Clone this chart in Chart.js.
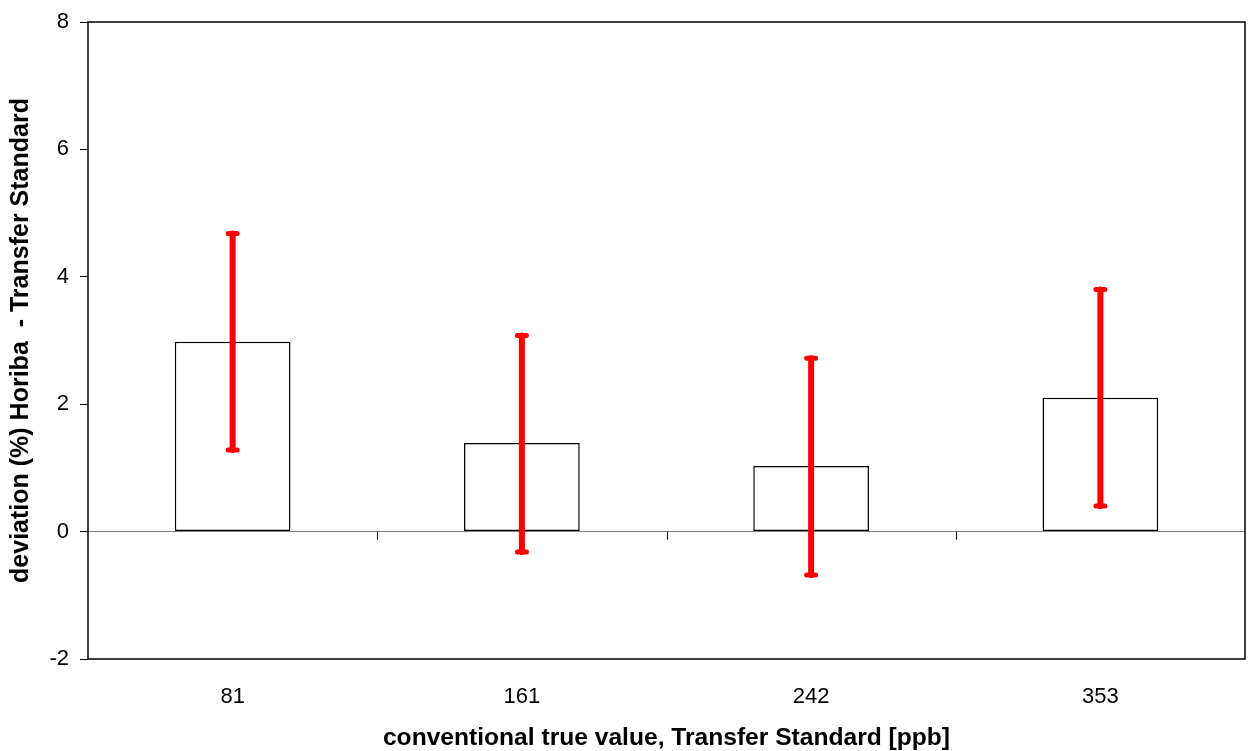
<!DOCTYPE html>
<html>
<head>
<meta charset="utf-8">
<script src="https://cdn.jsdelivr.net/npm/chart.js@4.4.1/dist/chart.umd.min.js"></script>
<style>
  html, body { margin: 0; padding: 0; background: #fff; }
  #wrap { width: 1249px; height: 751px; }
</style>
</head>
<body>
<div id="wrap"><canvas id="chart1"></canvas></div>
<script>
// data
var categories = ['81', '161', '242', '353'];
var deviation = [2.98, 1.39, 1.03, 2.10];
var errLow = [1.28, -0.32, -0.68, 0.40];
var errHigh = [4.68, 3.08, 2.72, 3.80];
var yTicks = [-2, 0, 2, 4, 6, 8];

var font = 'Arial, "Liberation Sans", sans-serif';

// plot box + category ticks on the zero line + red error bars
var extras = {
    id: 'extras',
    afterDatasetsDraw: function (chart) {
        var ctx = chart.ctx;
        var x = chart.scales.x;
        var y = chart.scales.y;
        var a = chart.chartArea;
        var y0 = y.getPixelForValue(0);

        ctx.save();
        // category separators hanging from the zero line
        ctx.strokeStyle = '#000';
        ctx.lineWidth = 1;
        for (var i = 0; i < categories.length - 1; i++) {
            var mx = Math.round((x.getPixelForValue(i) + x.getPixelForValue(i + 1)) / 2) + 0.5;
            ctx.beginPath();
            ctx.moveTo(mx, y0);
            ctx.lineTo(mx, y0 + 8);
            ctx.stroke();
        }

        // error bars
        ctx.strokeStyle = '#ff0000';
        ctx.lineCap = 'round';
        for (var j = 0; j < categories.length; j++) {
            var cx = x.getPixelForValue(j);
            var yl = y.getPixelForValue(errLow[j]);
            var yh = y.getPixelForValue(errHigh[j]);
            ctx.lineWidth = 6;
            ctx.beginPath();
            ctx.moveTo(cx, yl);
            ctx.lineTo(cx, yh);
            ctx.stroke();
            ctx.lineWidth = 5;
            ctx.beginPath();
            ctx.moveTo(cx - 4.5, yl);
            ctx.lineTo(cx + 4.5, yl);
            ctx.moveTo(cx - 4.5, yh);
            ctx.lineTo(cx + 4.5, yh);
            ctx.stroke();
        }

        // frame
        ctx.lineCap = 'butt';
        ctx.strokeStyle = '#000';
        ctx.lineWidth = 1.5;
        ctx.strokeRect(a.left, a.top, a.right - a.left, a.bottom - a.top);
        ctx.restore();
    }
};

var ctx1 = document.getElementById('chart1').getContext('2d');
var chart1 = new Chart(ctx1, {
    type: 'bar',
    data: {
        labels: categories,
        datasets: [{
            data: deviation,
            backgroundColor: '#ffffff',
            borderColor: '#000000',
            borderWidth: 1.5,
            borderSkipped: false,
            categoryPercentage: 1.0,
            barPercentage: 0.4
        }]
    },
    options: {
        responsive: true,
        maintainAspectRatio: false,
        animation: false,
        layout: {
            padding: { top: 22, right: 4, left: 0, bottom: 0 }
        },
        plugins: {
            legend: { display: false },
            tooltip: { enabled: false }
        },
        scales: {
            x: {
                grid: { display: false, drawTicks: false },
                border: { display: false },
                ticks: {
                    color: '#000',
                    padding: 25,
                    font: { family: font, size: 22 }
                },
                title: {
                    display: true,
                    text: 'conventional true value, Transfer Standard [ppb]',
                    color: '#000',
                    padding: { top: 0, bottom: 0 },
                    font: { family: font, size: 24.6, weight: 'bold', lineHeight: 1 }
                },
                afterFit: function (scale) { scale.height = 92; }
            },
            y: {
                min: -2,
                max: 8,
                afterBuildTicks: function (scale) {
                    scale.ticks = yTicks.map(function (v) { return { value: v }; });
                },
                grid: {
                    color: function (c) { return c.tick && c.tick.value === 0 ? '#808080' : 'rgba(0,0,0,0)'; },
                    lineWidth: 1,
                    drawTicks: true,
                    tickLength: 8,
                    tickColor: '#000'
                },
                border: { display: false },
                ticks: {
                    color: '#000',
                    padding: 11,
                    font: { family: font, size: 22, lineHeight: 1 }
                },
                title: {
                    display: true,
                    text: 'deviation (%) Horiba  - Transfer Standard',
                    color: '#000',
                    padding: { top: 9, bottom: 0 },
                    font: { family: font, size: 25, weight: 'bold', lineHeight: 1 }
                },
                afterFit: function (scale) { scale.width = 88; }
            }
        }
    },
    plugins: [extras]
});
</script>
</body>
</html>
